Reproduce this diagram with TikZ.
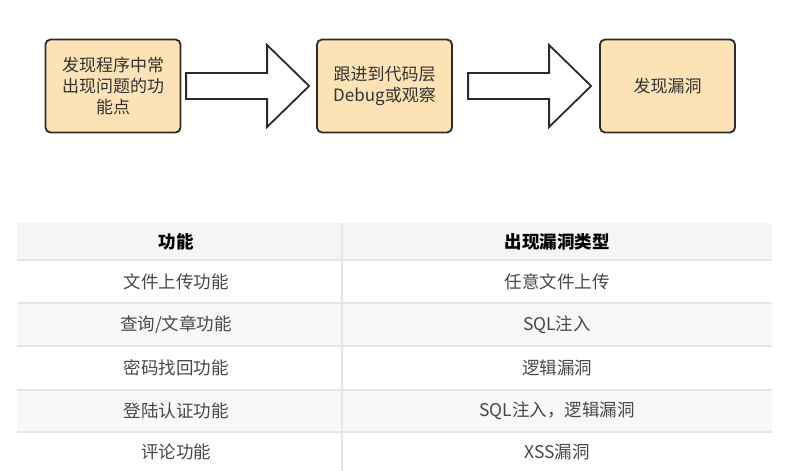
\documentclass[tikz,border=0pt]{standalone}
\usepackage{fontspec}
\setmainfont{Noto Sans CJK SC}
\usetikzlibrary{calc}
\definecolor{boxorange}{HTML}{FCE2B4}
\definecolor{boxline}{HTML}{2B2B2B}
\definecolor{boxtext}{HTML}{333333}
\definecolor{headgray}{HTML}{F5F5F5}
\definecolor{rowgray}{HTML}{F8F8F8}
\definecolor{gridgray}{HTML}{E6E6E6}
\definecolor{celltext}{HTML}{484848}
\tikzset{
  stagebox/.style={draw=boxline, fill=boxorange, line width=1.8pt, rounded corners=5pt,
    minimum width=135pt, minimum height=93pt, align=center, text=boxtext,
    font=\fontsize{17pt}{21pt}\selectfont},
  bigarrow/.style={draw=boxline, fill=white, line width=1.8pt, line join=miter},
  cell/.style={text=celltext, font=\fontsize{17.5pt}{21pt}\selectfont},
  gridline/.style={draw=gridgray, line width=1.2pt}
}
\begin{document}
\begin{tikzpicture}[x=1pt,y=-1pt]
  \useasboundingbox (0,0) rectangle (785,471);
    \node[stagebox] (find) at (113,86) {发现程序中常\\出现问题的功\\能点};
    \node[stagebox] (trace) at (384.5,86) {跟进到代码层\\Debug或观察};
    \node[stagebox] (vuln) at (667.5,86) {发现漏洞};
%    block arrows, drawn back from the tip
    \draw[bigarrow] ($(trace.west)+(-7,0)$) -- ++(-42,-41) -- ++(0,28) -- ++(-81,0)
      -- ++(0,26) -- ++(81,0) -- ++(0,28) -- cycle;
    \draw[bigarrow] ($(vuln.west)+(-8,0)$) -- ++(-42,-41) -- ++(0,28) -- ++(-81,0)
      -- ++(0,26) -- ++(81,0) -- ++(0,28) -- cycle;
%    table
    \fill[color=headgray] (17,223) rectangle (772,260);
    \fill[color=rowgray] (17,303) rectangle (772,346);
    \fill[color=rowgray] (17,390) rectangle (772,432);
    \draw[gridline] (17,260) -- (772,260);
    \draw[gridline] (17,303) -- (772,303);
    \draw[gridline] (17,346) -- (772,346);
    \draw[gridline] (17,390) -- (772,390);
    \draw[gridline] (17,432) -- (772,432);
    \draw[gridline] (342,223) -- (342,471);
    \node[cell, text=black] (headfunc) at (176,241.5) {\bfseries 功能};
    \node[cell, text=black] (headtype) at (557,241.5) {\bfseries 出现漏洞类型};
    \node[cell] (upfunc) at (176,281.5) {文件上传功能};
    \node[cell] (uptype) at (557,281.5) {任意文件上传};
    \node[cell] (queryfunc) at (176,324.5) {查询/文章功能};
    \node[cell] (querytype) at (557,324.5) {SQL注入};
    \node[cell] (pwdfunc) at (176,368) {密码找回功能};
    \node[cell] (pwdtype) at (557,368) {逻辑漏洞};
    \node[cell] (loginfunc) at (176,411) {登陆认证功能};
    \node[cell] (logintype) at (557,411) {SQL注入，逻辑漏洞};
    \node[cell] (commentfunc) at (176,452) {评论功能};
    \node[cell] (commenttype) at (557,452) {XSS漏洞};
\end{tikzpicture}
\end{document}
